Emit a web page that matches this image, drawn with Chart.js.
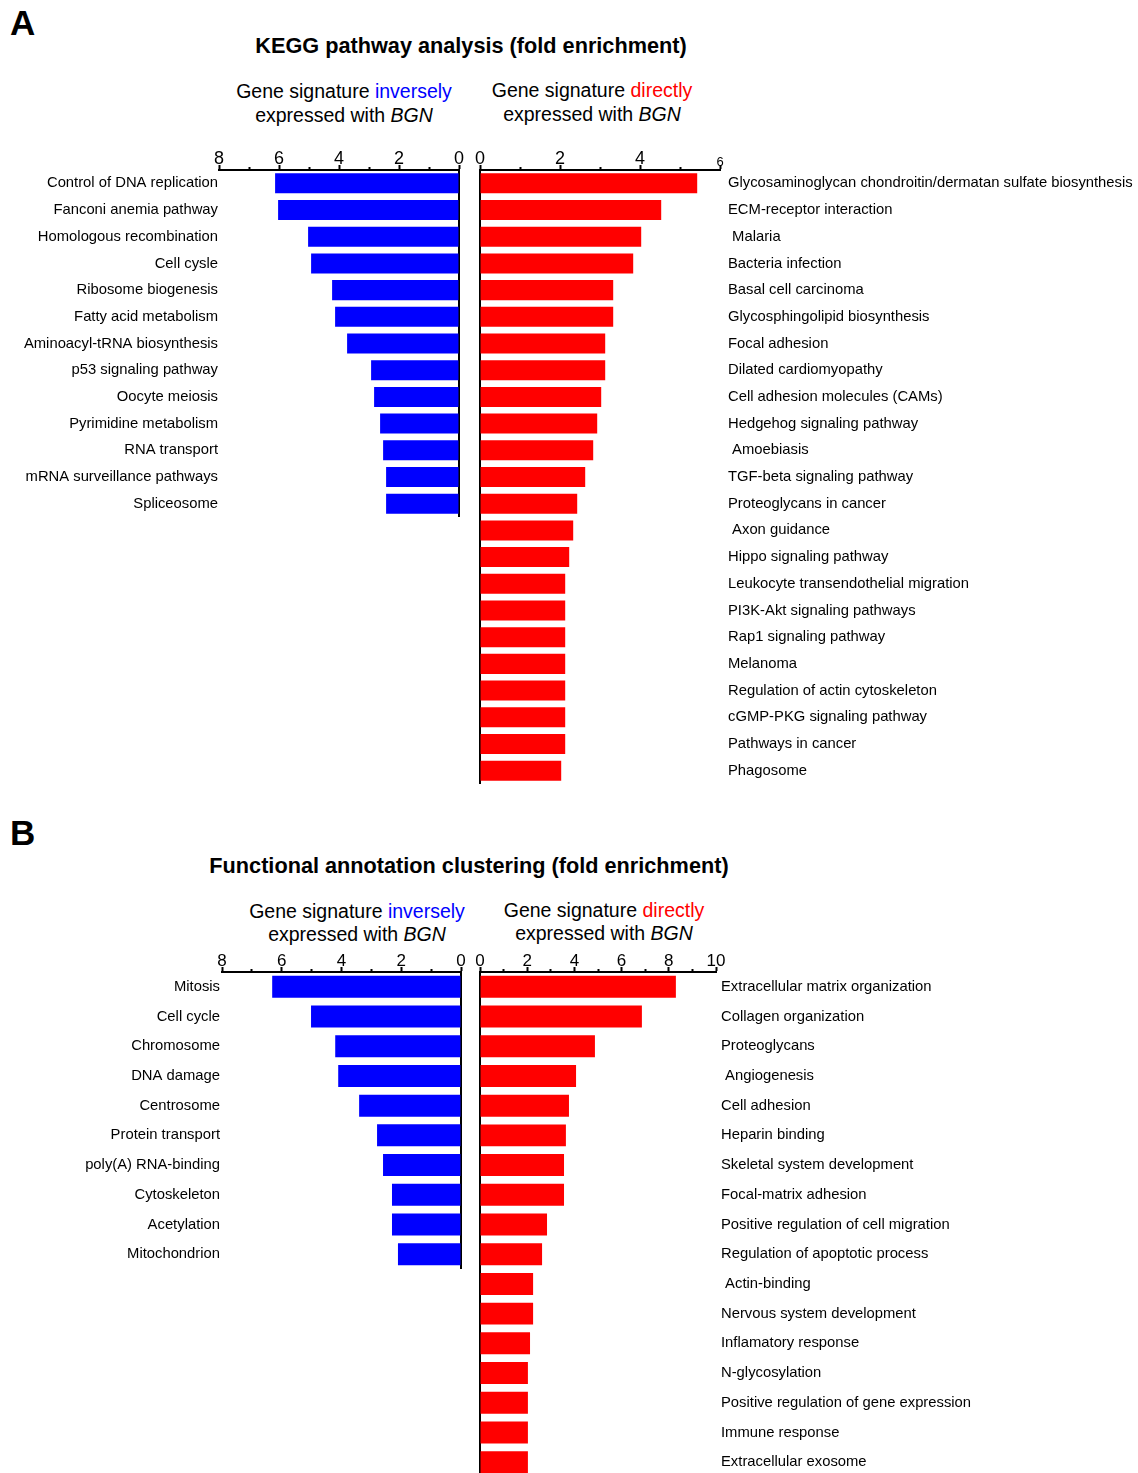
<!DOCTYPE html>
<html>
<head>
<meta charset="utf-8">
<script src="https://cdn.jsdelivr.net/npm/chart.js@4.4.1/dist/chart.umd.min.js"></script>
<style>
body { margin:0; width:1138px; height:1473px; overflow:hidden; background:#fff; font-family:"Liberation Sans", Arial, sans-serif; color:#000; position:relative; }
.abs { position:absolute; }
.letter { font-weight:bold; font-size:35px; line-height:35px; }
.title { font-weight:bold; font-size:21.7px; line-height:24px; text-align:center; width:700px; }
.sub { font-size:19.5px; line-height:24px; text-align:center; width:300px; }
.blue { color:#0000ff; }
.red { color:#ff0000; }
canvas { position:absolute; }
</style>
</head>
<body>
<div class="abs letter" style="left:10px; top:5px;">A</div>
<div class="abs title" style="left:121px; top:34px;">KEGG pathway analysis (fold enrichment)</div>
<div class="abs sub" style="left:194px; top:79px;">Gene signature <span class="blue">inversely</span><br>expressed with <i>BGN</i></div>
<div class="abs sub" style="left:442px; top:78px;">Gene signature <span class="red">directly</span><br>expressed with <i>BGN</i></div>

<div class="abs letter" style="left:10px; top:815px;">B</div>
<div class="abs title" style="left:119px; top:854px;">Functional annotation clustering (fold enrichment)</div>
<div class="abs sub" style="left:207px; top:900px; line-height:23px;">Gene signature <span class="blue">inversely</span><br>expressed with <i>BGN</i></div>
<div class="abs sub" style="left:454px; top:899px; line-height:23px;">Gene signature <span class="red">directly</span><br>expressed with <i>BGN</i></div>

<canvas id="keggInv" width="470" height="387" style="left:0px; top:130px;"></canvas>
<canvas id="keggDir" width="668" height="654" style="left:470px; top:130px;"></canvas>
<canvas id="facInv" width="471" height="337" style="left:0px; top:932px;"></canvas>
<canvas id="facDir" width="668" height="545" style="left:470px; top:932px;"></canvas>

<script>
// données (fold enrichment)
var keggInvLabels = ['Control of DNA replication', 'Fanconi anemia pathway', 'Homologous recombination', 'Cell cysle',
    'Ribosome biogenesis', 'Fatty acid metabolism', 'Aminoacyl-tRNA biosynthesis', 'p53 signaling pathway',
    'Oocyte meiosis', 'Pyrimidine metabolism', 'RNA transport', 'mRNA surveillance pathways', 'Spliceosome'];
var keggInvValues = [6.13, 6.03, 5.03, 4.93, 4.23, 4.13, 3.73, 2.93, 2.83, 2.63, 2.53, 2.43, 2.43];

var keggDirLabels = ['Glycosaminoglycan chondroitin/dermatan sulfate biosynthesis', 'ECM-receptor interaction', ' Malaria',
    'Bacteria infection', 'Basal cell carcinoma', 'Glycosphingolipid biosynthesis', 'Focal adhesion',
    'Dilated cardiomyopathy', 'Cell adhesion molecules (CAMs)', 'Hedgehog signaling pathway', ' Amoebiasis',
    'TGF-beta signaling pathway', 'Proteoglycans in cancer', ' Axon guidance', 'Hippo signaling pathway',
    'Leukocyte transendothelial migration', 'PI3K-Akt signaling pathways', 'Rap1 signaling pathway', 'Melanoma',
    'Regulation of actin cytoskeleton', 'cGMP-PKG signaling pathway', 'Pathways in cancer', 'Phagosome'];
var keggDirValues = [5.43, 4.53, 4.03, 3.83, 3.33, 3.33, 3.13, 3.13, 3.03, 2.93, 2.83, 2.63, 2.43, 2.33, 2.23,
    2.13, 2.13, 2.13, 2.13, 2.13, 2.13, 2.13, 2.03];

var facInvLabels = ['Mitosis', 'Cell cycle', 'Chromosome', 'DNA damage', 'Centrosome', 'Protein transport',
    'poly(A) RNA-binding', 'Cytoskeleton', 'Acetylation', 'Mitochondrion'];
var facInvValues = [6.32, 5.02, 4.21, 4.11, 3.41, 2.81, 2.61, 2.31, 2.31, 2.11];

var facDirLabels = ['Extracellular matrix organization', 'Collagen organization', 'Proteoglycans', ' Angiogenesis',
    'Cell adhesion', 'Heparin binding', 'Skeletal system development', 'Focal-matrix adhesion',
    'Positive regulation of cell migration', 'Regulation of apoptotic process', ' Actin-binding',
    'Nervous system development', 'Inflamatory response', 'N-glycosylation', 'Positive regulation of gene expression',
    'Immune response', 'Extracellular exosome'];
var facDirValues = [8.3, 6.86, 4.87, 4.07, 3.77, 3.64, 3.56, 3.56, 2.84, 2.63, 2.25, 2.25, 2.12, 2.03, 2.03, 2.03, 2.03];

var keggInvMax = 8, keggDirMax = 6, facInvMax = 8, facDirMax = 10;

var FONT = '"Liberation Sans", Arial, sans-serif';

function noPad(s) {
    s.paddingTop = 0; s.paddingBottom = 0; s.paddingLeft = 0; s.paddingRight = 0;
}

function makeChart(id, labels, values, color, side, max, opts) {
    var ctx = document.getElementById(id).getContext('2d');
    var isLeft = side === 'left';
    return new Chart(ctx, {
        type: 'bar',
        data: {
            labels: labels,
            datasets: [{
                data: values,
                backgroundColor: color,
                borderWidth: 0,
                categoryPercentage: 1,
                barPercentage: opts.bar
            }]
        },
        options: {
            responsive: false,
            animation: false,
            indexAxis: 'y',
            layout: { padding: 0 },
            plugins: { legend: { display: false }, tooltip: { enabled: false } },
            scales: {
                x: {
                    position: 'top',
                    min: 0,
                    max: max,
                    reverse: isLeft,
                    afterFit: function(s) { s.height = 40; noPad(s); },
                    border: { display: true, color: '#000', width: 2 },
                    grid: {
                        drawOnChartArea: false,
                        drawTicks: true,
                        tickLength: 5,
                        tickWidth: 2,
                        tickColor: '#000',
                        tickBorderDash: function(c) {
                            return (c.tick && c.tick.value % 2) ? [0, 2, 3, 20] : [];
                        }
                    },
                    ticks: {
                        stepSize: 1,
                        autoSkip: false,
                        maxRotation: 0,
                        padding: -5,
                        color: '#000',
                        font: function(c) {
                            var sz = opts.tickSize;
                            if (opts.smallLast && c.tick && c.tick.value === max) sz = 13;
                            return { family: FONT, size: sz };
                        },
                        callback: function(v) { return v % 2 === 0 ? v : ''; }
                    }
                },
                y: {
                    position: 'left',
                    afterFit: function(s) { s.width = opts.leftW; noPad(s); },
                    border: { display: !isLeft, color: '#000', width: 2 },
                    grid: { display: false, drawTicks: false },
                    ticks: {
                        display: isLeft,
                        autoSkip: false,
                        padding: opts.pad,
                        color: '#000',
                        font: { family: FONT, size: 14.8 }
                    }
                },
                y2: {
                    type: 'category',
                    labels: labels,
                    position: 'right',
                    afterFit: function(s) { s.width = opts.rightW; noPad(s); },
                    border: { display: isLeft, color: '#000', width: 2 },
                    grid: { display: false, drawTicks: false },
                    ticks: {
                        display: !isLeft,
                        autoSkip: false,
                        padding: opts.pad,
                        color: '#000',
                        font: { family: FONT, size: 14.8 }
                    }
                }
            }
        }
    });
}

makeChart('keggInv', keggInvLabels, keggInvValues, '#0000ff', 'left', keggInvMax,
    { bar: 0.75, tickSize: 18, leftW: 219, rightW: 11, pad: 1 });
makeChart('keggDir', keggDirLabels, keggDirValues, '#ff0000', 'right', keggDirMax,
    { bar: 0.75, tickSize: 18, leftW: 10, rightW: 418, pad: 8, smallLast: true });
makeChart('facInv', facInvLabels, facInvValues, '#0000ff', 'left', facInvMax,
    { bar: 0.74, tickSize: 17, leftW: 222, rightW: 10, pad: 2 });
makeChart('facDir', facDirLabels, facDirValues, '#ff0000', 'right', facDirMax,
    { bar: 0.74, tickSize: 17, leftW: 10, rightW: 422, pad: 5 });
</script>
</body>
</html>
